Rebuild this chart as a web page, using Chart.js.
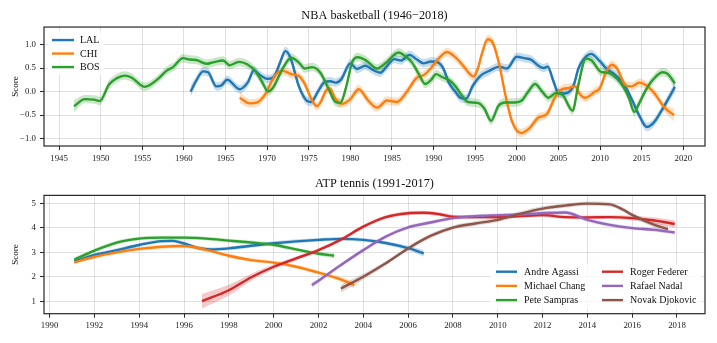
<!DOCTYPE html>
<html>
<head>
<meta charset="utf-8">
<script src="https://cdn.jsdelivr.net/npm/chart.js@4.4.1/dist/chart.umd.min.js"></script>
<style>
  html, body { margin: 0; padding: 0; background: #fff; }
  #wrap { position: relative; width: 717px; height: 343px; }
  .box { position: absolute; left: 0; width: 717px; }
  #nbaBox { top: 0; height: 168px; }
  #atpBox { top: 168px; height: 175px; }
</style>
</head>
<body>
<div id="wrap">
  <div class="box" id="nbaBox"><canvas id="nba"></canvas></div>
  <div class="box" id="atpBox"><canvas id="atp"></canvas></div>
</div>
<script>
// Score curves, as [year, score] (optional 3rd value = band half-width)
const lalPoints = [[1960.8,0.00,0.12],[1961.5,0.24],[1962.3,0.43],[1962.9,0.41],[1963.9,0.11],[1964.5,0.13],[1965.2,0.25],[1966.7,0.05],[1967.7,0.20],[1968.4,0.45],[1969.1,0.36],[1970.0,0.27],[1970.8,0.31],[1971.5,0.59],[1972.2,0.86],[1972.8,0.72],[1973.8,0.12],[1974.8,-0.20],[1975.3,-0.22],[1976.1,0.00],[1976.9,0.20],[1977.6,0.22],[1978.2,0.19],[1978.9,0.26],[1980.0,0.60],[1980.8,0.48],[1981.8,0.55],[1982.7,0.46],[1983.6,0.40],[1984.3,0.52],[1985.3,0.69],[1986.1,0.66],[1987.1,0.78],[1988.0,0.68],[1988.8,0.60],[1989.7,0.64],[1990.5,0.62],[1991.2,0.48],[1991.8,0.20],[1992.6,0.00],[1993.3,-0.14],[1993.9,-0.15],[1994.7,0.12],[1995.6,0.33],[1996.8,0.45],[1997.9,0.53],[1998.8,0.49],[2000.0,0.74],[2000.9,0.71],[2001.7,0.68],[2002.6,0.55],[2003.2,0.50],[2003.7,0.53],[2004.4,0.22],[2005.0,-0.03],[2005.6,-0.04],[2006.8,0.12],[2007.4,0.49],[2008.0,0.68],[2008.9,0.80],[2010.0,0.64],[2010.8,0.48],[2011.7,0.37],[2012.8,0.18],[2013.9,-0.20],[2014.8,-0.54],[2015.6,-0.75],[2016.4,-0.67],[2017.6,-0.34],[2019.0,0.10,0.12]];
const chiPoints = [[1966.7,-0.13,0.12],[1967.9,-0.25],[1968.8,-0.23],[1969.8,-0.05],[1970.6,0.24],[1971.4,0.42],[1971.9,0.44],[1972.9,0.37],[1973.8,0.33],[1974.5,0.17],[1975.3,-0.15],[1976.0,-0.31],[1976.5,-0.20],[1977.0,0.00],[1977.5,0.07],[1978.2,-0.15],[1979.0,-0.26],[1980.0,-0.16],[1981.0,0.05],[1982.1,-0.18],[1983.2,-0.34],[1984.4,-0.19],[1985.6,-0.22],[1986.8,0.00],[1987.9,0.28],[1988.9,0.36],[1989.7,0.50],[1990.7,0.72],[1991.6,0.84],[1992.6,0.73],[1993.6,0.54],[1994.3,0.38],[1994.8,0.32],[1995.3,0.48],[1995.8,0.80],[1996.5,1.11],[1997.1,1.04],[1997.9,0.57],[1998.6,-0.05],[1999.4,-0.62],[2000.5,-0.88],[2001.5,-0.78],[2002.6,-0.55],[2003.6,-0.48],[2004.5,-0.15],[2005.2,0.03],[2006.3,0.08],[2007.0,0.11],[2007.6,-0.06],[2008.2,-0.13],[2009.4,0.00],[2010.0,0.08],[2010.7,0.40],[2011.4,0.57],[2012.0,0.50],[2013.1,0.13],[2013.8,0.11],[2014.7,0.19],[2015.6,0.13],[2016.6,-0.05],[2017.7,-0.33],[2018.9,-0.50,0.13]];
const bosPoints = [[1946.8,-0.31,0.13],[1948.1,-0.16],[1949.2,-0.17],[1949.9,-0.20],[1951.0,0.15],[1951.9,0.28],[1952.9,0.34],[1953.7,0.30],[1955.3,0.10],[1956.9,0.27],[1957.9,0.44],[1958.7,0.52],[1959.9,0.71],[1960.7,0.68],[1961.5,0.67],[1962.7,0.59],[1963.5,0.62],[1964.7,0.66],[1965.5,0.56],[1966.6,0.63],[1967.6,0.58],[1968.6,0.43],[1969.5,0.17],[1970.1,0.00],[1970.7,0.08],[1971.9,0.50],[1972.9,0.72],[1973.9,0.60],[1974.5,0.49],[1975.4,0.52],[1976.4,0.40],[1977.4,0.05],[1978.2,-0.22],[1978.8,-0.24],[1979.5,0.10],[1980.2,0.62],[1980.9,0.73],[1981.9,0.66],[1983.2,0.49],[1984.2,0.60],[1985.8,0.83],[1986.6,0.75],[1987.4,0.62],[1988.2,0.38],[1989.0,0.16],[1989.7,0.25],[1990.3,0.37],[1991.0,0.31],[1991.9,0.24],[1992.7,0.10],[1993.5,-0.11],[1994.1,-0.22],[1995.3,-0.24],[1996.1,-0.36],[1996.9,-0.62],[1997.8,-0.30],[1998.6,-0.23],[1999.8,-0.23],[2000.6,-0.19],[2001.3,-0.02],[2002.2,0.16],[2003.0,0.01],[2003.8,-0.13],[2004.7,-0.03],[2005.5,-0.07],[2006.7,-0.40],[2007.4,0.15],[2008.3,0.70],[2009.0,0.66],[2010.1,0.42],[2011.0,0.40],[2012.0,0.28],[2012.8,0.10],[2013.5,-0.15],[2014.1,-0.43],[2014.7,-0.25],[2015.4,0.00],[2016.3,0.24],[2017.5,0.41],[2018.1,0.38],[2019.0,0.17,0.12]];

const agassiPoints = [[1991.1,2.62],[1992,2.89],[1993,3.09],[1994,3.30],[1995,3.46],[1995.5,3.47],[1996,3.36],[1996.6,3.18],[1997.2,3.12],[1998,3.16],[1999,3.27],[2000,3.37],[2001,3.45],[2002,3.51],[2003,3.55],[2004,3.51],[2005,3.38],[2006,3.17,0.1],[2006.7,2.96,0.14]];
const changPoints = [[1991.1,2.59],[1992,2.82],[1993,3.00],[1994,3.14],[1995,3.23],[1996,3.26],[1997,3.10],[1998,2.86],[1999,2.68],[2000,2.58],[2001,2.41],[2002,2.17],[2003,1.89,0.1],[2003.6,1.66,0.14]];
const samprasPoints = [[1991.1,2.70,0.1],[1992,3.07],[1993,3.40],[1994,3.56],[1995,3.60],[1996,3.60],[1997,3.56],[1998,3.48],[1999,3.40],[2000,3.31],[2001,3.12],[2002,2.94],[2002.7,2.86,0.1]];
const federerPoints = [[1996.8,1.00,0.3],[1998,1.45,0.22],[1999,1.98,0.14],[2000,2.41,0.1],[2001,2.75],[2002,3.09],[2003,3.52],[2004,4.05],[2005,4.44],[2006,4.60],[2006.7,4.62],[2007.4,4.56],[2008,4.46],[2009,4.44],[2010,4.44],[2011,4.48],[2012,4.52],[2013,4.44],[2014,4.43],[2015,4.44],[2016,4.40,0.1],[2017,4.30,0.12],[2017.9,4.16,0.15]];
const nadalPoints = [[2001.7,1.66,0.12],[2002,1.84],[2003,2.48],[2004,3.09],[2005,3.64],[2006,4.02],[2007,4.22],[2008,4.40],[2009.7,4.51],[2011,4.55],[2012,4.60],[2013,4.63],[2014,4.33],[2015,4.12],[2016,3.99],[2017,3.92],[2017.9,3.81]];
const djokovicPoints = [[2003,1.52,0.16],[2004,2.00,0.12],[2005,2.55],[2006,3.16],[2007,3.67],[2008,4.01],[2009,4.18],[2010,4.33],[2011,4.58],[2012,4.79],[2013,4.91],[2014,4.99],[2015,4.96],[2015.6,4.74],[2016,4.53],[2017,4.12,0.12],[2017.6,3.95,0.14]];

const nbaYearTicks = [1945, 1950, 1955, 1960, 1965, 1970, 1975, 1980, 1985, 1990, 1995, 2000, 2005, 2010, 2015, 2020];
const nbaScoreTicks = [-1.0, -0.5, 0.0, 0.5, 1.0];
const atpYearTicks = [1990, 1992, 1994, 1996, 1998, 2000, 2002, 2004, 2006, 2008, 2010, 2012, 2014, 2016, 2018];
const atpScoreTicks = [1, 2, 3, 4, 5];

const FONT = "'Liberation Serif', 'DejaVu Serif', serif";
const INK = '#262626';

function rgba(hex, a) {
  const n = parseInt(hex.slice(1), 16);
  return `rgba(${n >> 16},${(n >> 8) & 255},${n & 255},${a})`;
}

// band edges: value +/- half-width (per point if given, else series default)
function edge(points, err, sign) {
  return points.map(p => ({ x: p[0], y: p[1] + sign * (p.length > 2 ? p[2] : err) }));
}

function buildDatasets(series) {
  const sets = [];
  series.forEach((s, i) => {
    sets.push({ data: edge(s.points, s.err, 1), borderWidth: 0, backgroundColor: rgba(s.color, 0.25), fill: '+1', order: 100 + i });
    sets.push({ data: edge(s.points, s.err, -1), borderWidth: 0, fill: false, order: 100 + i });
    sets.push({ label: s.name, data: s.points.map(p => ({ x: p[0], y: p[1] })), borderColor: s.color,
      borderWidth: 2.4, fill: false, order: series.length - i });
  });
  return sets;
}

// frame around the plot + legend floating inside it
const framePlugin = {
  id: 'floatLegend',
  afterDraw(chart, args, o) {
    const { ctx, chartArea: a } = chart;
    ctx.save();
    const items = chart.data.datasets.filter(d => d.label);
    const bx = o.corner === 'tl' ? a.left + o.dx : a.right - o.dx - o.w;
    const by = o.corner === 'tl' ? a.top + o.dy : a.bottom - o.dy - o.h;
    ctx.fillStyle = 'rgba(255,255,255,0.8)';
    ctx.fillRect(bx, by, o.w, o.h);
    ctx.font = `10px ${FONT}`;
    ctx.textBaseline = 'middle';
    items.forEach((d, i) => {
      const col = Math.floor(i / o.rows), row = i % o.rows;
      const x = bx + o.pad + col * o.colW;
      const y = by + o.first + row * o.rowH;
      ctx.strokeStyle = d.borderColor;
      ctx.lineWidth = 2.4;
      ctx.beginPath(); ctx.moveTo(x, y); ctx.lineTo(x + o.line, y); ctx.stroke();
      ctx.fillStyle = '#111';
      ctx.fillText(d.label, x + o.line + o.gap, y + 0.5);
    });
    ctx.strokeStyle = INK;
    ctx.lineWidth = 1.2;
    ctx.strokeRect(a.left, a.top, a.right - a.left, a.bottom - a.top);
    ctx.restore();
  }
};

function makeOptions(c) {
  const tickFont = { family: FONT, size: 8.8 };
  return {
    responsive: true, maintainAspectRatio: false, animation: false,
    layout: { padding: { left: 0, right: 12, top: 0, bottom: 0 } },
    elements: { point: { radius: 0 }, line: { cubicInterpolationMode: 'monotone' } },
    plugins: {
      legend: { display: false },
      tooltip: { enabled: false },
      title: { display: true, text: c.title, fullSize: false, color: '#111',
        font: { family: FONT, size: 12.3, weight: 'normal', lineHeight: 1.2 },
        padding: { top: c.titleTop, bottom: c.titleBottom } },
      floatLegend: c.legend
    },
    scales: {
      x: {
        type: 'linear', min: c.xMin, max: c.xMax,
        afterBuildTicks: s => { s.ticks = c.xTicks.map(v => ({ value: v })); },
        afterFit: s => { s.height = c.xHeight; },
        grid: { color: 'rgba(0,0,0,0.12)', lineWidth: 1, tickLength: 4, tickColor: INK, tickWidth: 1 },
        border: { display: false },
        ticks: { font: tickFont, color: '#222', padding: 3, maxRotation: 0, autoSkip: false, callback: v => String(v) }
      },
      y: {
        min: c.yMin, max: c.yMax,
        afterBuildTicks: s => { s.ticks = c.yTicks.map(v => ({ value: v })); },
        afterFit: s => { s.width = 44; },
        grid: { color: 'rgba(0,0,0,0.12)', lineWidth: 1, tickLength: 4, tickColor: INK, tickWidth: 1 },
        border: { display: false },
        ticks: { font: tickFont, color: '#222', padding: 4, autoSkip: false, callback: c.yFormat },
        title: { display: true, text: 'Score', color: '#111', font: { family: FONT, size: 9 }, padding: { top: 10, bottom: 0 } }
      }
    }
  };
}

new Chart(document.getElementById('nba'), {
  type: 'line',
  data: { datasets: buildDatasets([
    { name: 'LAL', points: lalPoints, err: 0.09, color: '#1f77b4' },
    { name: 'CHI', points: chiPoints, err: 0.09, color: '#ff7f0e' },
    { name: 'BOS', points: bosPoints, err: 0.09, color: '#2ca02c' }
  ]) },
  options: makeOptions({
    title: 'NBA basketball (1946\u22122018)', titleTop: 8, titleBottom: 4.3,
    xMin: 1943.19, xMax: 2022.61, xTicks: nbaYearTicks, xHeight: 22,
    yMin: -1.155, yMax: 1.37, yTicks: nbaScoreTicks,
    yFormat: v => v.toFixed(1).replace('-', '\u2212'),
    legend: { corner: 'tl', dx: 4, dy: 4, w: 56, h: 44, pad: 4, first: 9, rowH: 13.5, rows: 3, colW: 0, line: 22, gap: 6 }
  }),
  plugins: [framePlugin]
});

new Chart(document.getElementById('atp'), {
  type: 'line',
  data: { datasets: buildDatasets([
    { name: 'Andre Agassi', points: agassiPoints, err: 0.08, color: '#1f77b4' },
    { name: 'Michael Chang', points: changPoints, err: 0.08, color: '#ff7f0e' },
    { name: 'Pete Sampras', points: samprasPoints, err: 0.08, color: '#2ca02c' },
    { name: 'Roger Federer', points: federerPoints, err: 0.08, color: '#d62728' },
    { name: 'Rafael Nadal', points: nadalPoints, err: 0.08, color: '#9467bd' },
    { name: 'Novak Djokovic', points: djokovicPoints, err: 0.09, color: '#8c564b' }
  ]) },
  options: makeOptions({
    title: 'ATP tennis (1991-2017)', titleTop: 8.1, titleBottom: 4.5,
    xMin: 1989.75, xMax: 2019.25, xTicks: atpYearTicks, xHeight: 29.3,
    yMin: 0.49, yMax: 5.33, yTicks: atpScoreTicks,
    yFormat: v => String(v),
    legend: { corner: 'br', dx: 3, dy: 4, w: 212, h: 46, pad: 6, first: 8, rowH: 14.2, rows: 3, colW: 106, line: 21, gap: 7 }
  }),
  plugins: [framePlugin]
});
</script>
</body>
</html>
